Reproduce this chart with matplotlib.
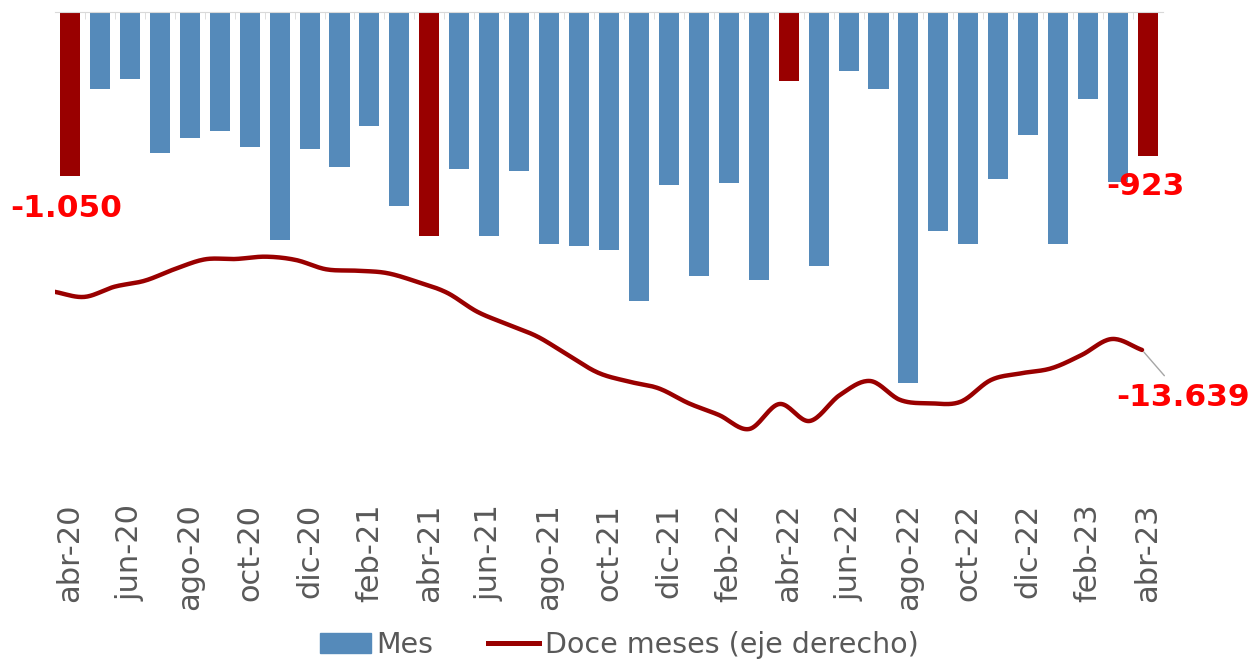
import numpy as np
import matplotlib
matplotlib.use("Agg")
import matplotlib.pyplot as plt

# meses abr-20 .. abr-23
abbr = ['ene', 'feb', 'mar', 'abr', 'may', 'jun', 'jul', 'ago', 'sep', 'oct', 'nov', 'dic']
meses = []
for k in range(37):
    m = (3 + k) % 12
    y = 20 + (3 + k) // 12
    meses.append('%s-%d' % (abbr[m], y))

mes = [-1050, -497, -433, -904, -810, -762, -864, -1461, -879, -992, -730, -1244,
       -1434, -1009, -1436, -1022, -1489, -1504, -1525, -1852, -1109, -1696, -1098, -1719,
       -442, -1632, -380, -497, -2376, -1408, -1489, -1073, -789, -1489, -561, -1088,
       -923]

doce = [-11290, -11500, -11088, -10846, -10374, -9983, -9971, -9878, -10011, -10386,
        -10443, -10536, -10886, -11330, -12096, -12604, -13104, -13842, -14556, -14910,
        -15184, -15789, -16261, -16826, -15818, -16503, -15455, -14890, -15656, -15789,
        -15725, -14850, -14580, -14378, -13842, -13197, -13639]

BLUE = '#558aba'
DARKRED = '#990000'
GRAY = '#595959'


def catmull_rom(xs, ys, n=20):
    # smoothed line like the spreadsheet one
    xs = np.asarray(xs, float)
    ys = np.asarray(ys, float)
    px = np.concatenate([[2 * xs[0] - xs[1]], xs, [2 * xs[-1] - xs[-2]]])
    py = np.concatenate([[2 * ys[0] - ys[1]], ys, [2 * ys[-1] - ys[-2]]])
    ox, oy = [], []
    t = np.linspace(0, 1, n, endpoint=False)
    for i in range(1, len(px) - 2):
        for p, o in ((px, ox), (py, oy)):
            p0, p1, p2, p3 = p[i - 1], p[i], p[i + 1], p[i + 2]
            o.extend(0.5 * ((2 * p1) + (-p0 + p2) * t +
                            (2 * p0 - 5 * p1 + 4 * p2 - p3) * t ** 2 +
                            (-p0 + 3 * p1 - 3 * p2 + p3) * t ** 3))
    ox.append(xs[-1])
    oy.append(ys[-1])
    return np.array(ox), np.array(oy)


fig = plt.figure(figsize=(12.56, 6.65), dpi=100)
ax = fig.add_axes([55 / 1256, 1 - 480 / 665, (1163 - 55) / 1256, (480 - 11.7) / 665])

x = np.arange(len(mes))
colors = [DARKRED if m.startswith('abr') else BLUE for m in meses]
ax.bar(x, mes, width=0.67, color=colors, zorder=2)
ax.set_ylim(-3000, 0)
ax.set_xlim(-0.5, len(mes) - 0.5)

for s in ['left', 'right', 'bottom']:
    ax.spines[s].set_visible(False)
ax.spines['top'].set_color('#d9d9d9')
ax.set_yticks([])
ax.set_xticks(x[::2])
ax.set_xticklabels(meses[::2], rotation=90, fontsize=22, color=GRAY)
ax.tick_params(axis='x', which='major', length=0, pad=17)
ax.set_xticks(x[:-1] + 0.5, minor=True)
ax.tick_params(axis='x', which='minor', top=True, bottom=False, direction='in',
               length=5, color='#d9d9d9')

ax2 = ax.twinx()
lx = np.linspace(-0.53, 35.8, len(doce))
sx, sy = catmull_rom(lx, doce)
ax2.plot(sx, sy, color=DARKRED, lw=3.2, solid_capstyle='round', zorder=3)
ax2.set_ylim(-18882, 0)
ax2.set_yticks([])
for s in ax2.spines.values():
    s.set_visible(False)

lab = dict(color='#ff0000', fontsize=22.5, fontweight='bold', ha='center', va='center')
ax.annotate('-1.050', xy=(0, mes[0]), xytext=(-3, -24), textcoords='offset points', **lab)
ax.annotate('-923', xy=(36, mes[-1]), xytext=(-2, -22), textcoords='offset points', **lab)
ax2.annotate('-13.639', xy=(lx[-1], doce[-1]), xytext=(29.5, -34), textcoords='offset points',
             arrowprops=dict(arrowstyle='-', color='#a6a6a6', lw=1, shrinkA=4, shrinkB=2),
             **lab)

h1 = plt.Rectangle((0, 0), 1, 1, color=BLUE)
h2 = plt.Line2D([0], [0], color=DARKRED, lw=3.6)
fig.legend([h1, h2], ['Mes', 'Doce meses (eje derecho)'], loc='center',
           bbox_to_anchor=(619 / 1256, 1 - 645 / 665), ncol=2, frameon=False,
           fontsize=20.5, handlelength=1.8, handleheight=0.7, handletextpad=0.2,
           columnspacing=1.9, labelcolor=GRAY)

fig.savefig('out.png', dpi=100)
